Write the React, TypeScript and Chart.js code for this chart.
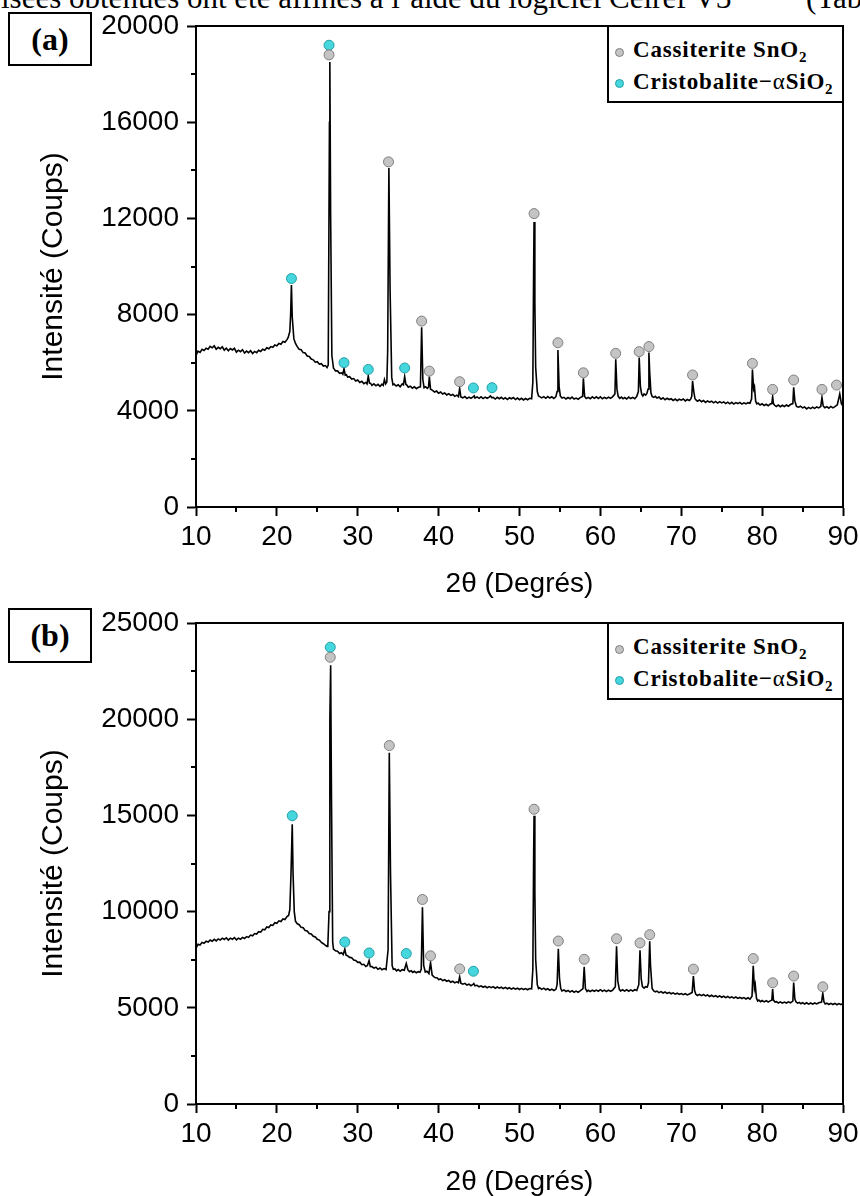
import React, { useEffect, useRef } from 'react';
import { Chart, registerables } from 'chart.js';

Chart.register(...registerables);

// ---------- Pattern (a) : 2θ (deg) and intensity (counts) ----------
const thetaA = [
  10.0, 10.25, 10.5, 10.75, 11.0, 11.25, 11.5, 11.75, 12.0, 12.25,
  12.5, 12.75, 13.0, 13.25, 13.5, 13.75, 14.0, 14.25, 14.5, 14.75,
  15.0, 15.25, 15.5, 15.75, 16.0, 16.25, 16.5, 16.75, 17.0, 17.25,
  17.5, 17.75, 18.0, 18.25, 18.5, 18.75, 19.0, 19.25, 19.5, 19.75,
  20.0, 20.25, 20.5, 20.75, 21.0, 21.25, 21.4, 21.6, 21.7, 21.8,
  21.9, 22.1, 22.3, 22.5, 22.75, 23.0, 23.25, 23.5, 23.75, 24.0,
  24.25, 24.5, 24.75, 25.0, 25.25, 25.5, 25.75, 26.0, 26.2, 26.35,
  26.5, 26.55, 26.65, 26.8, 27.0, 27.25, 27.5, 27.75, 28.0, 28.15,
  28.3, 28.45, 28.6, 28.75, 29.0, 29.25, 29.5, 29.75, 30.0, 30.25,
  30.5, 30.75, 31.0, 31.15, 31.3, 31.45, 31.6, 31.75, 32.0, 32.25,
  32.5, 32.75, 33.0, 33.15, 33.3, 33.45, 33.6, 33.7, 33.85, 34.0,
  34.2, 34.35, 34.5, 34.75, 35.0, 35.25, 35.5, 35.65, 35.8, 35.95,
  36.1, 36.25, 36.5, 36.75, 37.0, 37.25, 37.5, 37.75, 37.9, 38.05,
  38.2, 38.4, 38.6, 38.75, 38.85, 39.0, 39.25, 39.5, 39.75, 40.0,
  40.25, 40.5, 40.75, 41.0, 41.25, 41.5, 41.75, 42.0, 42.25, 42.45,
  42.6, 42.75, 43.0, 43.25, 43.5, 43.75, 44.0, 44.25, 44.4, 44.5,
  44.75, 45.0, 45.25, 45.5, 45.75, 46.0, 46.25, 46.4, 46.6, 46.75,
  47.0, 47.25, 47.5, 47.75, 48.0, 48.25, 48.5, 48.75, 49.0, 49.25,
  49.5, 49.75, 50.0, 50.25, 50.5, 50.75, 51.0, 51.25, 51.5, 51.65,
  51.75, 51.8, 51.9, 52.0, 52.2, 52.35, 52.5, 52.75, 53.0, 53.25,
  53.5, 53.75, 54.0, 54.25, 54.5, 54.65, 54.75, 54.9, 55.05, 55.25,
  55.5, 55.75, 56.0, 56.25, 56.5, 56.75, 57.0, 57.25, 57.5, 57.8,
  57.9, 58.05, 58.25, 58.5, 58.75, 59.0, 59.25, 59.5, 59.75, 60.0,
  60.25, 60.5, 60.75, 61.0, 61.25, 61.5, 61.8, 61.9, 62.05, 62.2,
  62.4, 62.6, 62.8, 63.0, 63.25, 63.5, 63.75, 64.0, 64.25, 64.5,
  64.7, 64.8, 64.95, 65.1, 65.25, 65.4, 65.6, 65.75, 65.9, 66.0,
  66.1, 66.25, 66.4, 66.6, 66.8, 67.0, 67.25, 67.5, 67.75, 68.0,
  68.25, 68.5, 68.75, 69.0, 69.25, 69.5, 69.75, 70.0, 70.25, 70.5,
  70.75, 71.0, 71.15, 71.3, 71.4, 71.55, 71.7, 71.85, 72.0, 72.25,
  72.5, 72.75, 73.0, 73.25, 73.5, 73.75, 74.0, 74.25, 74.5, 74.75,
  75.0, 75.25, 75.5, 75.75, 76.0, 76.25, 76.5, 76.75, 77.0, 77.25,
  77.5, 77.75, 78.0, 78.25, 78.5, 78.7, 78.8, 78.95, 79.05, 79.2,
  79.35, 79.5, 79.75, 80.0, 80.25, 80.5, 80.75, 81.0, 81.2, 81.3,
  81.4, 81.55, 81.75, 82.0, 82.25, 82.5, 82.75, 83.0, 83.25, 83.5,
  83.8, 83.9, 84.05, 84.25, 84.5, 84.75, 85.0, 85.25, 85.5, 85.75,
  86.0, 86.25, 86.5, 86.75, 87.0, 87.25, 87.4, 87.55, 87.75, 88.0,
  88.25, 88.5, 88.75, 89.0, 89.3, 89.6, 89.8, 90.0,
];
const countsA = [
  6300, 6480, 6430, 6560, 6510, 6600, 6560, 6680, 6620, 6700,
  6560, 6640, 6580, 6660, 6520, 6600, 6500, 6590, 6530, 6600,
  6440, 6520, 6460, 6540, 6400, 6480, 6420, 6500, 6380, 6470,
  6420, 6520, 6470, 6560, 6520, 6620, 6580, 6670, 6640, 6740,
  6700, 6800, 6770, 6880, 6850, 6960, 7050, 7300, 8000, 9230,
  7900, 7000, 6800, 6680, 6560, 6540, 6420, 6400, 6280, 6260,
  6150, 6120, 6020, 6040, 5940, 5960, 5860, 5880, 5800, 5900,
  16000, 18500, 12000, 6300, 5780, 5660, 5660, 5560, 5580, 5520,
  5750, 5480, 5500, 5400, 5420, 5320, 5340, 5240, 5280, 5180,
  5230, 5130, 5180, 5120, 5450, 5150, 5140, 5060, 5120, 5040,
  5100, 5020, 5110, 5060, 5300, 5120, 5200, 6500, 14100, 9000,
  5400, 5080, 5110, 5030, 5080, 5000, 5120, 5080, 5420, 5100,
  5060, 4980, 5020, 4940, 5000, 4920, 4980, 5000, 7470, 5300,
  4960, 5000, 4930, 4980, 5420, 4900, 4850, 4780, 4820, 4730,
  4780, 4700, 4740, 4660, 4710, 4640, 4680, 4600, 4650, 4590,
  4930, 4580, 4540, 4590, 4510, 4570, 4520, 4580, 4620, 4530,
  4580, 4520, 4580, 4510, 4570, 4520, 4570, 4620, 4540, 4560,
  4490, 4560, 4500, 4560, 4490, 4540, 4470, 4540, 4500, 4550,
  4470, 4530, 4460, 4520, 4450, 4510, 4460, 4520, 4500, 5200,
  10000, 11850, 8500, 5800, 4800, 4620, 4590, 4540, 4590, 4520,
  4590, 4530, 4580, 4510, 4590, 4800, 6530, 5000, 4620, 4530,
  4560, 4490, 4550, 4500, 4570, 4490, 4530, 4480, 4550, 4600,
  5350, 4600, 4510, 4560, 4500, 4580, 4520, 4580, 4510, 4580,
  4500, 4560, 4510, 4570, 4520, 4580, 4700, 6140, 4900, 4600,
  4520, 4570, 4500, 4550, 4490, 4570, 4510, 4560, 4500, 4600,
  4800, 6220, 5000, 4700, 4620, 4700, 4650, 4720, 4900, 6420,
  5600, 4750, 4600, 4560, 4600, 4530, 4570, 4480, 4540, 4460,
  4520, 4470, 4500, 4430, 4490, 4420, 4480, 4440, 4490, 4410,
  4470, 4430, 4480, 4600, 5240, 4800, 4500, 4440, 4400, 4450,
  4380, 4430, 4350, 4410, 4360, 4400, 4330, 4390, 4320, 4380,
  4330, 4370, 4300, 4360, 4290, 4350, 4280, 4340, 4300, 4350,
  4280, 4330, 4290, 4340, 4310, 4500, 5720, 4900, 5000, 4400,
  4290, 4320, 4240, 4290, 4220, 4270, 4210, 4280, 4300, 4590,
  4300, 4230, 4180, 4240, 4170, 4230, 4180, 4240, 4190, 4260,
  4300, 4980, 4400, 4180, 4150, 4190, 4120, 4160, 4080, 4140,
  4090, 4150, 4100, 4160, 4120, 4180, 4560, 4200, 4130, 4170,
  4110, 4180, 4120, 4170, 4250, 4700, 4300, 4200,
];
const cassiteriteThetaA = [26.45, 33.8, 37.9, 38.85, 42.6, 51.8, 54.75, 57.9, 61.9, 64.8, 66.0, 71.4, 78.8, 81.3, 83.9, 87.4, 89.2];
const cassiteriteCountsA = [18800, 14350, 7730, 5650, 5210, 12200, 6830, 5580, 6390, 6460, 6670, 5490, 5970, 4890, 5280, 4890, 5070];
const cristobaliteThetaA = [21.8, 26.45, 28.3, 31.3, 35.8, 44.3, 46.6];
const cristobaliteCountsA = [9500, 19200, 6000, 5720, 5780, 4950, 4960];

// ---------- Pattern (b) ----------
const thetaB = [
  10.0, 10.25, 10.5, 10.75, 11.0, 11.25, 11.5, 11.75, 12.0, 12.25,
  12.5, 12.75, 13.0, 13.25, 13.5, 13.75, 14.0, 14.25, 14.5, 14.75,
  15.0, 15.25, 15.5, 15.75, 16.0, 16.25, 16.5, 16.75, 17.0, 17.25,
  17.5, 17.75, 18.0, 18.25, 18.5, 18.75, 19.0, 19.25, 19.5, 19.75,
  20.0, 20.25, 20.5, 20.75, 21.0, 21.25, 21.45, 21.6, 21.75, 21.9,
  22.0, 22.15, 22.3, 22.5, 22.75, 23.0, 23.25, 23.5, 23.75, 24.0,
  24.25, 24.5, 24.75, 25.0, 25.25, 25.5, 25.75, 26.0, 26.2, 26.3,
  26.45, 26.55, 26.65, 26.75, 26.9, 27.0, 27.25, 27.5, 27.75, 28.0,
  28.2, 28.4, 28.55, 28.75, 29.0, 29.25, 29.5, 29.75, 30.0, 30.25,
  30.5, 30.75, 31.0, 31.2, 31.4, 31.55, 31.75, 32.0, 32.25, 32.5,
  32.75, 33.0, 33.25, 33.5, 33.75, 33.9, 34.05, 34.25, 34.4, 34.6,
  34.8, 35.0, 35.25, 35.5, 35.75, 36.0, 36.2, 36.4, 36.6, 36.8,
  37.0, 37.25, 37.5, 37.7, 37.85, 38.0, 38.15, 38.35, 38.55, 38.8,
  39.0, 39.2, 39.4, 39.6, 39.8, 40.0, 40.25, 40.5, 40.75, 41.0,
  41.25, 41.5, 41.75, 42.0, 42.25, 42.45, 42.6, 42.75, 43.0, 43.25,
  43.5, 43.75, 44.0, 44.2, 44.35, 44.5, 44.75, 45.0, 45.25, 45.5,
  45.75, 46.0, 46.25, 46.5, 46.75, 47.0, 47.25, 47.5, 47.75, 48.0,
  48.25, 48.5, 48.75, 49.0, 49.25, 49.5, 49.75, 50.0, 50.25, 50.5,
  50.75, 51.0, 51.25, 51.5, 51.65, 51.75, 51.8, 51.9, 52.0, 52.2,
  52.35, 52.5, 52.75, 53.0, 53.25, 53.5, 53.75, 54.0, 54.25, 54.5,
  54.65, 54.8, 54.95, 55.1, 55.25, 55.5, 55.75, 56.0, 56.25, 56.5,
  56.75, 57.0, 57.25, 57.5, 57.85, 58.0, 58.15, 58.35, 58.5, 58.75,
  59.0, 59.25, 59.5, 59.75, 60.0, 60.25, 60.5, 60.75, 61.0, 61.25,
  61.5, 61.85, 62.0, 62.15, 62.35, 62.5, 62.75, 63.0, 63.25, 63.5,
  63.75, 64.0, 64.25, 64.5, 64.75, 64.9, 65.05, 65.2, 65.4, 65.6,
  65.8, 65.95, 66.1, 66.2, 66.4, 66.6, 66.8, 67.0, 67.25, 67.5,
  67.75, 68.0, 68.25, 68.5, 68.75, 69.0, 69.25, 69.5, 69.75, 70.0,
  70.25, 70.5, 70.75, 71.0, 71.35, 71.5, 71.65, 71.8, 72.0, 72.25,
  72.5, 72.75, 73.0, 73.25, 73.5, 73.75, 74.0, 74.25, 74.5, 74.75,
  75.0, 75.25, 75.5, 75.75, 76.0, 76.25, 76.5, 76.75, 77.0, 77.25,
  77.5, 77.75, 78.0, 78.25, 78.5, 78.75, 78.9, 79.05, 79.15, 79.3,
  79.45, 79.6, 79.8, 80.0, 80.25, 80.5, 80.75, 81.0, 81.2, 81.3,
  81.4, 81.6, 81.8, 82.0, 82.25, 82.5, 82.75, 83.0, 83.25, 83.5,
  83.8, 83.9, 84.05, 84.2, 84.4, 84.6, 84.8, 85.0, 85.25, 85.5,
  85.75, 86.0, 86.25, 86.5, 86.75, 87.0, 87.35, 87.5, 87.65, 87.8,
  88.0, 88.25, 88.5, 88.75, 89.0, 89.25, 89.5, 89.75, 90.0,
];
const countsB = [
  8100, 8300, 8260, 8400, 8350, 8460, 8420, 8520, 8460, 8560,
  8480, 8580, 8520, 8620, 8550, 8640, 8520, 8620, 8560, 8650,
  8530, 8620, 8560, 8660, 8600, 8700, 8660, 8780, 8740, 8860,
  8830, 8960, 8930, 9080, 9050, 9200, 9170, 9310, 9280, 9420,
  9390, 9520, 9480, 9620, 9590, 9740, 9800, 10100, 12000, 14540,
  12000, 10000, 9500, 9380, 9320, 9180, 9160, 9020, 8990, 8860,
  8840, 8720, 8680, 8560, 8520, 8400, 8330, 8250, 8190, 8220,
  10000, 20000, 22800, 16000, 8400, 8050, 7960, 7940, 7820, 7860,
  7760, 8050, 7740, 7700, 7620, 7600, 7480, 7460, 7360, 7370,
  7240, 7260, 7150, 7200, 7450, 7150, 7140, 7060, 7110, 7000,
  7070, 6980, 7040, 6990, 8000, 18260, 12000, 7200, 7000, 7020,
  6920, 6990, 6900, 6980, 6950, 7300, 6970, 6880, 6930, 6840,
  6900, 6820, 6880, 6850, 7000, 10230, 7200, 6860, 6900, 6780,
  7350, 6700, 6620, 6560, 6560, 6470, 6500, 6410, 6460, 6380,
  6420, 6330, 6380, 6300, 6350, 6300, 6610, 6280, 6230, 6270,
  6180, 6230, 6150, 6200, 6260, 6140, 6170, 6090, 6140, 6070,
  6120, 6040, 6100, 6050, 6100, 6020, 6080, 6020, 6070, 6000,
  6060, 5990, 6040, 5970, 6030, 5970, 6020, 5950, 6010, 5950,
  6000, 5940, 6000, 5990, 7000, 13000, 14980, 11000, 7500, 6200,
  6000, 6040, 5960, 6020, 5940, 5990, 5910, 5970, 5900, 5960,
  6200, 8070, 6500, 6000, 5880, 5930, 5850, 5900, 5820, 5890,
  5810, 5870, 5810, 5880, 6000, 7130, 6000, 5850, 5910, 5850,
  5920, 5860, 5920, 5860, 5940, 5860, 5920, 5850, 5920, 5860,
  5910, 6100, 8200, 6400, 5950, 5880, 5940, 5870, 5940, 5860,
  5930, 5870, 5940, 5900, 6200, 7990, 6500, 6100, 6020, 6100,
  6080, 6300, 8460, 7200, 6000, 5880, 5830, 5870, 5790, 5840,
  5770, 5820, 5750, 5800, 5730, 5780, 5710, 5760, 5700, 5740,
  5680, 5730, 5670, 5720, 5800, 6650, 5900, 5700, 5640, 5700,
  5630, 5690, 5620, 5670, 5590, 5650, 5580, 5630, 5560, 5620,
  5550, 5600, 5530, 5590, 5520, 5570, 5500, 5560, 5490, 5540,
  5480, 5530, 5460, 5520, 5450, 5600, 7180, 6000, 6200, 5500,
  5350, 5400, 5320, 5380, 5310, 5370, 5300, 5360, 5400, 5970,
  5400, 5300, 5320, 5250, 5310, 5240, 5300, 5250, 5310, 5260,
  5350, 6310, 5450, 5300, 5240, 5280, 5210, 5270, 5200, 5260,
  5190, 5250, 5190, 5250, 5200, 5260, 5300, 5750, 5300, 5200,
  5240, 5170, 5230, 5170, 5230, 5160, 5220, 5170, 5210,
];
const cassiteriteThetaB = [26.6, 33.9, 38.0, 39.0, 42.6, 51.8, 54.8, 58.0, 62.0, 64.9, 66.1, 71.5, 78.9, 81.3, 83.9, 87.5];
const cassiteriteCountsB = [23220, 18630, 10630, 7700, 7020, 15320, 8470, 7520, 8590, 8370, 8800, 7010, 7560, 6300, 6650, 6090];
const cristobaliteThetaB = [21.9, 26.6, 28.4, 31.4, 36.0, 44.3];
const cristobaliteCountsB = [14980, 23740, 8420, 7850, 7820, 6900];

// ---------- Axes ----------
const xMajorTicks = [10, 20, 30, 40, 50, 60, 70, 80, 90];
const xMinorTicks = [15, 25, 35, 45, 55, 65, 75, 85];
const yMajorTicksA = [0, 4000, 8000, 12000, 16000, 20000];
const yMinorTicksA = [2000, 6000, 10000, 14000, 18000];
const yMajorTicksB = [0, 5000, 10000, 15000, 20000, 25000];
const yMinorTicksB = [2500, 7500, 12500, 17500, 22500];

const seriesNames = ['Cassiterite SnO₂', 'Cristobalite-αSiO₂'];
const xTitle = '2θ (Degrés)';
const yTitle = 'Intensité (Coups)';

const SANS = '"Liberation Sans", Arial, Helvetica, sans-serif';
const SERIF = '"Liberation Serif", "Times New Roman", Times, serif';

const framePlugin = {
  id: 'frame',
  afterDraw(chart: any, _args: any, opts: any) {
    const { ctx, chartArea } = chart;
    const { left, top, right, bottom } = chartArea;
    ctx.save();
    ctx.strokeStyle = '#000';
    ctx.lineWidth = 2;
    ctx.beginPath();
    ctx.moveTo(left - 1, top);
    ctx.lineTo(right, top);
    ctx.lineTo(right, bottom + 1);
    ctx.stroke();
    const xs = chart.scales.x;
    const ys = chart.scales.y;
    ctx.beginPath();
    (opts.xMinor || []).forEach((v: number) => {
      const px = Math.round(xs.getPixelForValue(v));
      ctx.moveTo(px, bottom);
      ctx.lineTo(px, bottom + 5);
    });
    (opts.yMinor || []).forEach((v: number) => {
      const py = Math.round(ys.getPixelForValue(v));
      ctx.moveTo(left - 5, py);
      ctx.lineTo(left, py);
    });
    ctx.stroke();
    ctx.restore();
  },
};

type XRDProps = {
  top: number;
  theta: number[];
  counts: number[];
  snTheta: number[];
  snCounts: number[];
  siTheta: number[];
  siCounts: number[];
  yMax: number;
  yMajor: number[];
  yMinor: number[];
  xTitlePad: number;
};

const CW = 864;
const CH = 610;

function XRDChart(p: XRDProps) {
  const ref = useRef<HTMLCanvasElement | null>(null);
  useEffect(() => {
    if (!ref.current) return;
    const pattern = p.theta.map((t, i) => ({ x: t, y: p.counts[i] }));
    const sn = p.snTheta.map((t, i) => ({ x: t, y: p.snCounts[i] }));
    const si = p.siTheta.map((t, i) => ({ x: t, y: p.siCounts[i] }));
    const chart = new Chart(ref.current, {
      type: 'scatter',
      data: {
        datasets: [
          {
            label: seriesNames[0],
            data: sn,
            showLine: false,
            pointRadius: 5,
            pointBackgroundColor: '#c4c4c4',
            pointBorderColor: '#7f7f7f',
            pointBorderWidth: 1,
            order: 0,
          },
          {
            label: seriesNames[1],
            data: si,
            showLine: false,
            pointRadius: 5,
            pointBackgroundColor: '#45d6de',
            pointBorderColor: '#239ea6',
            pointBorderWidth: 1,
            order: 0,
          },
          {
            label: 'XRD',
            data: pattern,
            showLine: true,
            borderColor: '#000',
            borderWidth: 1.6,
            pointRadius: 0,
            tension: 0,
            order: 1,
          },
        ],
      } as any,
      options: {
        animation: false,
        responsive: false,
        maintainAspectRatio: false,
        events: [],
        layout: { padding: { left: 0, top: 26, right: 21, bottom: 0 } },
        plugins: {
          legend: { display: false },
          tooltip: { enabled: false },
          frame: { xMinor: xMinorTicks, yMinor: p.yMinor },
        } as any,
        scales: {
          x: {
            type: 'linear',
            min: 10,
            max: 90,
            afterBuildTicks: (s: any) => {
              s.ticks = xMajorTicks.map((v) => ({ value: v }));
            },
            afterFit: (s: any) => {
              s.height = 103;
            },
            ticks: {
              autoSkip: false,
              maxRotation: 0,
              padding: 4,
              color: '#000',
              font: { family: SANS, size: 28 },
              callback: (v: any) => String(v),
            },
            grid: { display: true, drawOnChartArea: false, drawTicks: true, tickLength: 9, tickWidth: 2, tickColor: '#000' },
            border: { display: true, color: '#000', width: 2 },
            title: {
              display: true,
              text: xTitle,
              color: '#000',
              font: { family: SANS, size: 28 },
              padding: { top: 0, bottom: p.xTitlePad },
            },
          },
          y: {
            type: 'linear',
            min: 0,
            max: p.yMax,
            afterBuildTicks: (s: any) => {
              s.ticks = p.yMajor.map((v) => ({ value: v }));
            },
            afterFit: (s: any) => {
              s.width = 196;
            },
            ticks: {
              padding: 8,
              color: '#000',
              font: { family: SANS, size: 28 },
              callback: (v: any) => String(v),
            },
            grid: { display: true, drawOnChartArea: false, drawTicks: true, tickLength: 9, tickWidth: 2, tickColor: '#000' },
            border: { display: true, color: '#000', width: 2 },
            title: {
              display: true,
              text: yTitle,
              color: '#000',
              font: { family: SANS, size: 30 },
              padding: { top: 36, bottom: 0 },
            },
          },
        },
      } as any,
      plugins: [framePlugin as any],
    });
    return () => chart.destroy();
  }, []);
  return (
    <canvas
      ref={ref}
      width={CW}
      height={CH}
      style={{ position: 'absolute', left: 0, top: p.top, width: CW, height: CH }}
    />
  );
}

function PanelTag({ top, height, text }: { top: number; height: number; text: string }) {
  return (
    <div
      style={{
        position: 'absolute',
        left: 8,
        top,
        width: 84,
        height,
        boxSizing: 'border-box',
        border: '2px solid #000',
        background: '#fff',
        display: 'flex',
        alignItems: 'center',
        justifyContent: 'center',
        font: `bold 32px ${SERIF}`,
        color: '#000',
      }}
    >
      {text}
    </div>
  );
}

function Dot({ left, top, fill, stroke }: { left: number; top: number; fill: string; stroke: string }) {
  return (
    <div
      style={{
        position: 'absolute',
        left,
        top,
        width: 9,
        height: 9,
        boxSizing: 'border-box',
        borderRadius: '50%',
        background: fill,
        border: `1px solid ${stroke}`,
      }}
    />
  );
}

function LegendBox({ top }: { top: number }) {
  const textStyle: React.CSSProperties = {
    position: 'absolute',
    left: 24,
    font: `bold 23px ${SERIF}`,
    lineHeight: '32px',
    letterSpacing: '0.8px',
    whiteSpace: 'nowrap',
    color: '#000',
  };
  const sub: React.CSSProperties = { fontSize: 15, position: 'relative', top: 5 };
  return (
    <div
      style={{
        position: 'absolute',
        left: 607,
        top,
        width: 237,
        height: 78,
        boxSizing: 'border-box',
        border: '2px solid #000',
        background: '#fff',
      }}
    >
      <Dot left={6} top={21} fill="#c4c4c4" stroke="#7f7f7f" />
      <div style={{ ...textStyle, top: 7 }}>
        Cassiterite SnO<span style={sub}>2</span>
      </div>
      <Dot left={6} top={52} fill="#45d6de" stroke="#239ea6" />
      <div style={{ ...textStyle, top: 39 }}>
        Cristobalite−<span style={{ fontWeight: 'normal' }}>α</span>SiO<span style={sub}>2</span>
      </div>
    </div>
  );
}

export default function App() {
  return (
    <div
      style={{
        position: 'absolute',
        left: 0,
        top: 0,
        width: 860,
        height: 1196,
        overflow: 'hidden',
        background: '#fff',
      }}
    >
      <div
        style={{
          position: 'absolute',
          left: 1,
          top: -18,
          font: `31px ${SERIF}`,
          lineHeight: '31px',
          whiteSpace: 'nowrap',
          color: '#000',
        }}
      >
        isées obtenues ont été affinés à l’aide du logiciel Celref V3
      </div>
      <div
        style={{
          position: 'absolute',
          left: 806,
          top: -18,
          font: `31px ${SERIF}`,
          lineHeight: '31px',
          whiteSpace: 'nowrap',
          color: '#000',
        }}
      >
        (Tab
      </div>
      <XRDChart
        top={0}
        theta={thetaA}
        counts={countsA}
        snTheta={cassiteriteThetaA}
        snCounts={cassiteriteCountsA}
        siTheta={cristobaliteThetaA}
        siCounts={cristobaliteCountsA}
        yMax={20000}
        yMajor={yMajorTicksA}
        yMinor={yMinorTicksA}
        xTitlePad={9}
      />
      <XRDChart
        top={597}
        theta={thetaB}
        counts={countsB}
        snTheta={cassiteriteThetaB}
        snCounts={cassiteriteCountsB}
        siTheta={cristobaliteThetaB}
        siCounts={cristobaliteCountsB}
        yMax={25000}
        yMajor={yMajorTicksB}
        yMinor={yMinorTicksB}
        xTitlePad={8}
      />
      <PanelTag top={12} height={54} text="(a)" />
      <PanelTag top={608} height={55} text="(b)" />
      <LegendBox top={25} />
      <LegendBox top={622} />
    </div>
  );
}
